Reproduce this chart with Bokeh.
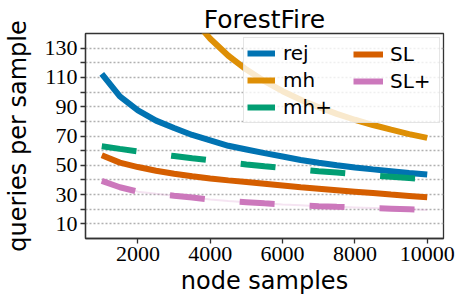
from bokeh.plotting import figure
from bokeh.models import Range1d, FixedTicker, Legend, LegendItem
from bokeh.embed import file_html
from bokeh.resources import INLINE

title_text = "ForestFire"
x_label = "node samples"
y_label = "queries per sample"

# node samples
xs = [1000, 1500, 2000, 2500, 3000, 3500, 4000, 4500, 5000, 5500,
      6000, 6500, 7000, 7500, 8000, 8500, 9000, 9500, 10000]

rej = [112.5, 97.0, 87.5, 80.5, 75.5, 70.7, 67.0, 63.3, 60.8, 58.3,
       56.0, 53.6, 51.7, 50.0, 48.5, 47.2, 46.0, 44.8, 43.7]
mh = [385.6, 284.3, 229.2, 193.9, 169.1, 150.7, 136.4, 124.8, 115.4, 107.4,
      100.6, 94.8, 89.7, 85.1, 81.1, 77.5, 74.3, 71.3, 68.7]
mh_plus = [63.0, 61.2, 59.5, 57.8, 56.3, 54.8, 53.4, 52.0, 50.6, 49.3,
           48.2, 47.1, 46.0, 45.0, 44.0, 43.1, 42.2, 41.3, 40.5]
sl = [56.8, 51.8, 48.8, 46.3, 44.2, 42.5, 41.0, 39.7, 38.6, 37.4,
      36.2, 35.0, 34.0, 33.0, 32.0, 31.0, 30.0, 29.1, 28.2]
sl_plus = [39.3, 35.0, 32.0, 30.5, 29.2, 28.0, 26.6, 25.6, 24.8, 24.0,
           23.3, 22.7, 22.1, 21.6, 21.2, 20.8, 20.4, 20.0, 19.5]

y_ticks = [10, 30, 50, 70, 90, 110, 130]
y_minor = [20, 40, 60, 80, 100, 120]
x_ticks = [2000, 4000, 6000, 8000, 10000]

colors = {"rej": "#0173B2", "mh": "#DE8F05", "mh+": "#029E73",
          "SL": "#D55E00", "SL+": "#CC78BC"}

p = figure(width=461, height=301, output_backend="svg", toolbar_location=None,
           x_range=Range1d(550, 10450), y_range=Range1d(0, 140),
           min_border_left=85, min_border_right=18, min_border_top=33,
           min_border_bottom=63, title=title_text)
p.background_fill_color = "white"
p.border_fill_color = "white"
p.outline_line_color = "#333333"
p.outline_line_width = 1.3

p.title.align = "center"
p.title.standoff = 0
p.title.text_font = "DejaVu Sans"
p.title.text_font_size = "25px"
p.title.text_font_style = "normal"
p.title.text_color = "black"

# axes
for ax in (p.xaxis[0], p.yaxis[0]):
    ax.axis_line_color = "#333333"
    ax.axis_line_width = 1.3
    ax.major_tick_line_color = "#333333"
    ax.minor_tick_line_color = "#333333"
    ax.major_tick_line_width = 1.3
    ax.minor_tick_line_width = 1.3
    ax.major_tick_out = 5
    ax.major_tick_in = 0
    ax.minor_tick_in = 0
    ax.major_label_text_font = "Liberation Serif"
    ax.major_label_text_font_size = "22px"
    ax.major_label_text_color = "black"
    ax.axis_label_text_font = "DejaVu Sans"
    ax.axis_label_text_font_size = "24px"
    ax.axis_label_text_font_style = "normal"
    ax.axis_label_text_color = "black"

p.xaxis.ticker = FixedTicker(ticks=x_ticks, minor_ticks=[])
p.yaxis.ticker = FixedTicker(ticks=y_ticks, minor_ticks=y_minor)
p.yaxis.minor_tick_out = 5
p.xaxis.minor_tick_out = 0
p.xaxis.axis_label = x_label
p.yaxis.axis_label = y_label
p.yaxis.major_label_standoff = 3
p.xaxis.major_label_standoff = 3
p.yaxis.axis_label_standoff = 10
p.xaxis.axis_label_standoff = 3

p.xgrid.visible = False
p.ygrid.ticker = p.yaxis[0].ticker
p.ygrid.grid_line_color = "#b0b0b0"
p.ygrid.grid_line_dash = "2 2"
p.ygrid.grid_line_width = 1.6
p.ygrid.minor_grid_line_color = "#b0b0b0"
p.ygrid.minor_grid_line_dash = "2 2"
p.ygrid.minor_grid_line_width = 1.6

# lines
r_rej = p.line(xs, rej, line_color=colors["rej"], line_width=6)
r_mh = p.line(xs, mh, line_color=colors["mh"], line_width=6)
r_mhp = p.line(xs, mh_plus, line_color=colors["mh+"], line_width=6, line_dash="35 35")
r_sl = p.line(xs, sl, line_color=colors["SL"], line_width=6)
p.line(xs, sl_plus, line_color=colors["SL+"], line_width=2, line_alpha=0.2)
r_slp = p.line(xs, sl_plus, line_color=colors["SL+"], line_width=6, line_dash="35 35")

leg_common = dict(label_text_font="DejaVu Sans", label_text_font_size="20px",
                  label_text_color="black", padding=3, spacing=3,
                  label_height=24, glyph_height=20, margin=0)

legA = Legend(items=[LegendItem(label="rej", renderers=[r_rej]),
                     LegendItem(label="mh", renderers=[r_mh]),
                     LegendItem(label="mh+", renderers=[r_mhp])],
             location=(158, 115), glyph_width=28, label_standoff=8,
             label_width=153, border_line_color="#cccccc", border_line_width=1,
             background_fill_color="white", background_fill_alpha=0.8,
             **leg_common)
legB = Legend(items=[LegendItem(label="SL", renderers=[r_sl]),
                     LegendItem(label="SL+", renderers=[r_slp])],
             location=(265, 142), glyph_width=30, label_standoff=7,
             border_line_alpha=0, background_fill_alpha=0, **leg_common)
p.add_layout(legA)
p.add_layout(legB)

open("out.html", "w").write(file_html(p, INLINE))
